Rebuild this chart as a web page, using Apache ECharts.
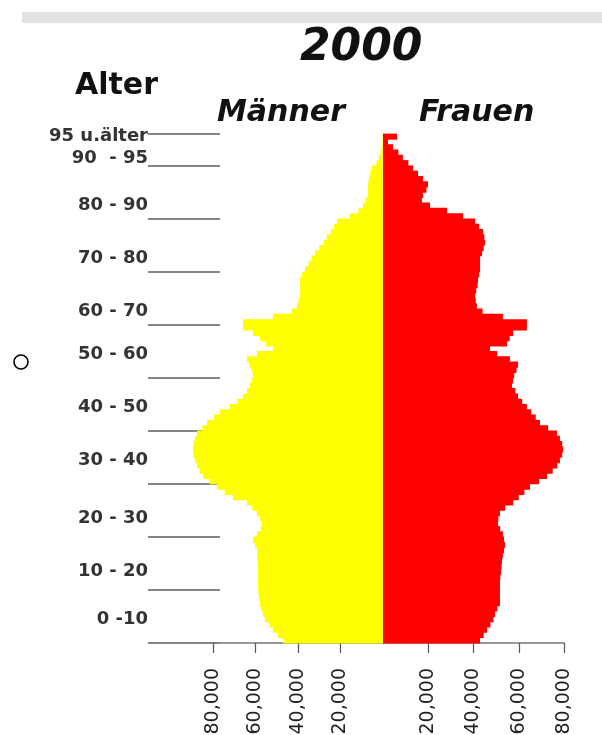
<!DOCTYPE html>
<html><head><meta charset="utf-8">
<script src="https://cdn.jsdelivr.net/npm/echarts@6/dist/echarts.min.js"></script>
<style>html,body{margin:0;padding:0;background:#fff}#c{width:602px;height:735px}</style>
</head><body><div id="c"></div>
<script>
// Age categories (single years, top one = 95 and older)
const ages = ['0','1','2','3','4','5','6','7','8','9','10','11','12','13','14','15','16','17','18','19',
'20','21','22','23','24','25','26','27','28','29','30','31','32','33','34','35','36','37','38','39',
'40','41','42','43','44','45','46','47','48','49','50','51','52','53','54','55','56','57','58','59',
'60','61','62','63','64','65','66','67','68','69','70','71','72','73','74','75','76','77','78','79',
'80','81','82','83','84','85','86','87','88','89','90','91','92','93','94','95+'];

// Männer (persons per single year of age)
const men = [47000,49500,51800,53500,55500,56500,57300,57900,58300,58600,
58800,58800,58800,58800,58800,59000,59200,59300,60200,61200,
59300,57500,56900,57800,59300,61500,64000,70600,74500,78100,
81500,84700,86200,87500,88500,89200,89400,89200,88500,87500,
85000,82800,79500,76700,72000,68500,65900,64000,62600,61600,
61200,61800,63000,64000,59300,51800,55000,57900,61200,65900,
65900,51800,43000,40500,39800,39000,39000,39000,39000,38000,
36700,35000,33500,32000,30000,28000,26400,24500,23000,21600,
15500,11500,9400,8200,7100,7000,7000,6600,6000,5300,
3000,2000,1200,600,300,200];

// Frauen
const women = [42900,44500,46000,47500,48800,49500,50500,51700,51700,51700,
51700,51700,51900,52200,52400,52600,53000,53500,53900,53500,
53000,51800,50800,51000,51700,54000,57500,60000,62500,65000,
69000,72500,75000,77000,78200,79200,79600,79200,78200,76900,
73000,69400,67500,65500,63600,61500,59700,58500,57000,57500,
58000,59000,59700,56100,50500,47300,54800,56000,57500,63600,
63600,53000,44000,41500,41000,40700,41200,41800,42000,42500,
42900,42900,42900,43800,44500,45100,44800,44200,42500,40700,
35400,28300,20800,17200,17700,19200,19900,17700,15500,13300,
11200,8800,6800,4400,2200,6200];

// Age-group tick labels (category index where each label sits)
const groupLabelIndex = [4, 13, 23, 34, 44, 54, 62, 72, 82, 91, 95];
const groupLabelText = ['0 -10', '10 - 20', '20 - 30', '30 - 40', '40 - 50', '50 - 60', '60 - 70', '70 - 80', '80 - 90', '90  - 95', '95 u.älter'];
// Decade boundaries for the long tick lines
const decadeTickIndex = [0, 10, 20, 30, 40, 50, 60, 70, 80, 90];
// Value-axis ticks
const xTickValues = [20000, 40000, 60000, 80000];
const xMax = 80000;

const FONT = 'DejaVu Sans';
const chart = echarts.init(document.getElementById('c'), null, {renderer: 'canvas'});

const xLabelStyle = {
  rotate: 90, margin: 25, fontFamily: FONT, fontSize: 19, color: '#222',
  customValues: xTickValues,
  formatter: v => (v / 1000) + ',000'
};
const xTickStyle = {show: true, length: 10, customValues: xTickValues, lineStyle: {color: '#555', width: 1.2}};
const xLineStyle = {show: true, onZero: false, lineStyle: {color: '#777', width: 1.5}};

chart.setOption({
  animation: false,
  backgroundColor: '#fff',
  title: [
    {text: '2000', left: 300, top: 27, padding: 0,
     textStyle: {fontFamily: FONT, fontSize: 44, fontStyle: 'italic', fontWeight: 'bold', color: '#111'}},
    {text: 'Alter', left: 75, top: 71, padding: 0,
     textStyle: {fontFamily: FONT, fontSize: 30, fontWeight: 'bold', color: '#111'}},
    {text: 'Männer', left: 217, top: 98, padding: 0,
     textStyle: {fontFamily: FONT, fontSize: 30, fontStyle: 'italic', fontWeight: 'bold', color: '#111'}},
    {text: 'Frauen', left: 419, top: 98, padding: 0,
     textStyle: {fontFamily: FONT, fontSize: 30, fontStyle: 'italic', fontWeight: 'bold', color: '#111'}}
  ],
  graphic: [
    {type: 'rect', shape: {x: 22, y: 12, width: 580, height: 11}, style: {fill: '#e3e3e3'}, silent: true},
    {type: 'circle', shape: {cx: 21, cy: 362, r: 7}, style: {fill: '#fff', stroke: '#000', lineWidth: 1.6}, silent: true}
  ],
  grid: [
    {left: 213, width: 170, top: 134, height: 509, containLabel: false, outerBoundsMode: 'none'},
    {left: 383, width: 181, top: 134, height: 509, containLabel: false, outerBoundsMode: 'none'}
  ],
  xAxis: [
    {type: 'value', gridIndex: 0, inverse: true, min: 0, max: xMax, interval: 20000,
     axisLine: xLineStyle, axisTick: xTickStyle, axisLabel: xLabelStyle, splitLine: {show: false}},
    {type: 'value', gridIndex: 1, min: 0, max: xMax, interval: 20000,
     axisLine: xLineStyle, axisTick: xTickStyle, axisLabel: xLabelStyle, splitLine: {show: false}}
  ],
  yAxis: [
    {type: 'category', gridIndex: 0, data: ages, position: 'left', offset: -7,
     axisLine: {show: false, onZero: false},
     axisTick: {show: true, length: 72, interval: (i) => decadeTickIndex.indexOf(i) >= 0,
                lineStyle: {color: '#858585', width: 2}},
     axisLabel: {show: true, margin: 72, interval: (i) => groupLabelIndex.indexOf(i) >= 0,
                 formatter: (v, i) => { const k = groupLabelIndex.indexOf(i); return k >= 0 ? groupLabelText[k] : ''; },
                 fontFamily: FONT, fontSize: 18, fontWeight: 'bold', color: '#333'},
     splitLine: {show: false}},
    {type: 'category', gridIndex: 1, data: ages, show: false, axisLine: {onZero: false}}
  ],
  series: [
    {name: 'Männer', type: 'bar', xAxisIndex: 0, yAxisIndex: 0, data: men, barWidth: '115%', clip: false,
     itemStyle: {color: '#ffff00'}},
    {name: 'Frauen', type: 'bar', xAxisIndex: 1, yAxisIndex: 1, data: women, barWidth: '115%', clip: false,
     itemStyle: {color: '#ff0000'}}
  ]
});
</script></body></html>
